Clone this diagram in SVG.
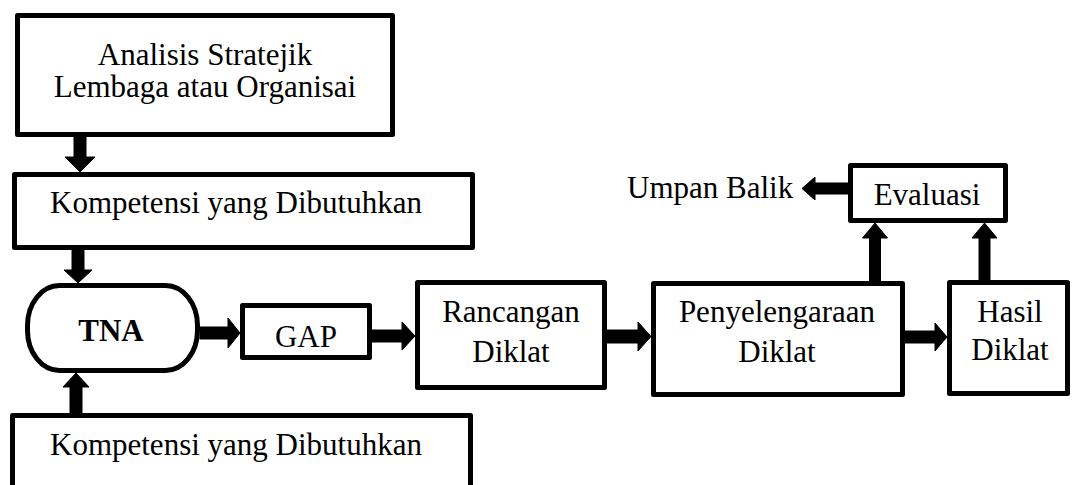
<svg xmlns="http://www.w3.org/2000/svg" width="1072" height="485" viewBox="0 0 1072 485">
<style>
.box{fill:#fff;stroke:#000;stroke-width:5;stroke-linejoin:round}
.t{font-family:"Liberation Serif","Times New Roman",serif;font-size:31px;fill:#000}
.c{text-anchor:middle}
.arr{fill:#000;stroke:#000;stroke-width:1;stroke-linejoin:round}
</style>
<rect width="1072" height="485" fill="#fff"/>
<g id="connectors">
<polygon class="arr" points="74,137 86,137 86,157 95,157 80,172 65,157 74,157"/>
<polygon class="arr" points="72,250 84,250 84,270 92,270 78,283 64,270 72,270"/>
<polygon class="arr" points="70,413 82,413 82,387 89,387 76,373 63,387 70,387"/>
<polygon class="arr" points="200,327 228,327 228,318 240,333 228,348 228,339 200,339"/>
<polygon class="arr" points="372,330 402,330 402,322 415,336 402,350 402,342 372,342"/>
<polygon class="arr" points="607,330 638,330 638,322 651,336.5 638,351 638,343 607,343"/>
<polygon class="arr" points="905,331 935,331 935,323 947,337 935,351 935,343 905,343"/>
<polygon class="arr" points="869.5,281 880.5,281 880.5,238 887.5,238 875,223 862.5,238 869.5,238"/>
<polygon class="arr" points="979,280 990,280 990,238 997,238 984.5,223 972,238 979,238"/>
<polygon class="arr" points="848,183 815,183 815,177 802,188.5 815,200 815,194 848,194"/>
</g>
<g id="n-analisis">
<rect class="box" x="17.5" y="15.5" width="375" height="119"/>
<text class="t c" x="205" y="65">Analisis Stratejik</text>
<text class="t c" x="205" y="97">Lembaga atau Organisai</text>
</g>
<g id="n-kompetensi1">
<rect class="box" x="14.5" y="174.5" width="458" height="73"/>
<text class="t" x="50" y="213">Kompetensi yang Dibutuhkan</text>
</g>
<g id="n-tna">
<rect class="box" x="27.5" y="285.5" width="170" height="85" rx="32" ry="40"/>
<text class="t c" x="111" y="341" font-weight="bold">TNA</text>
</g>
<g id="n-gap">
<rect class="box" x="242.5" y="305.5" width="127" height="52"/>
<text class="t c" x="306" y="347">GAP</text>
</g>
<g id="n-rancangan">
<rect class="box" x="417.5" y="282.5" width="187" height="105"/>
<text class="t c" x="511" y="322">Rancangan</text>
<text class="t c" x="511" y="362">Diklat</text>
</g>
<g id="n-penyelenggaraan">
<rect class="box" x="653.5" y="283.5" width="249" height="111"/>
<text class="t c" x="777" y="322">Penyelengaraan</text>
<text class="t c" x="777" y="362">Diklat</text>
</g>
<g id="n-hasil">
<rect class="box" x="949.5" y="282.5" width="118" height="111"/>
<text class="t c" x="1010" y="322">Hasil</text>
<text class="t c" x="1010" y="360">Diklat</text>
</g>
<g id="n-evaluasi">
<rect class="box" x="850.5" y="165.5" width="155" height="55"/>
<text class="t c" x="927" y="205">Evaluasi</text>
</g>
<g id="n-umpan">
<text class="t" x="627" y="198">Umpan Balik</text>
</g>
<g id="n-kompetensi2">
<rect class="box" x="12.5" y="415.5" width="458" height="80"/>
<text class="t" x="50" y="455">Kompetensi yang Dibutuhkan</text>
</g>
</svg>
